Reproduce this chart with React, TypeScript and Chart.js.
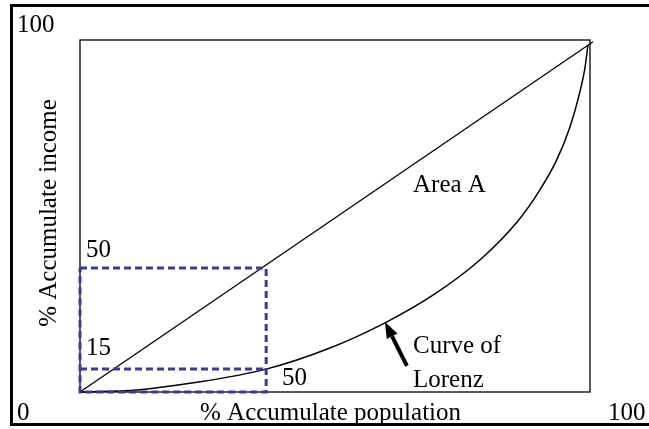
import React, { useEffect, useRef } from "react";
import { Chart, registerables } from "chart.js";

Chart.register(...registerables);

// Lorenz curve (% accumulated population -> % accumulated income)
const lorenzX = [0, 11.2, 22.2, 36.5, 49, 60, 69.2, 78.4, 85.7, 90, 93.5, 96, 97.8, 99, 99.6];
const lorenzY = [0, 0.6, 2.6, 6.5, 12.5, 19.8, 27.5, 37.5, 48.3, 57, 66, 75, 84, 92, 98.6];

// Line of equality
const equalityX = [0, 100.6];
const equalityY = [0, 99.5];

// Dashed guide boxes
const guideX = 36.5;
const guideHighY = 35.2;
const guideLowY = 6.5;

// Axis labels
const axisTicks = { zero: "0", hundred: "100" };
const xTitle = "% Accumulate population";
const yTitle = "% Accumulate income";

// Annotation texts
const areaLabel = "Area A";
const guideLabels = { high: "50", low: "15", right: "50" };
const curveLabel = ["Curve of", "Lorenz"];
const arrowFrom = { x: 64.1, y: 7.4 };
const arrowTo = { x: 59.8, y: 19.9 };

const FONT = '25px "Liberation Serif", "Times New Roman", serif';
const BLUE = "#3a3a9e";

export default function App() {
  const ref = useRef<HTMLCanvasElement>(null);

  useEffect(() => {
    if (!ref.current) return;

    const decor = {
      id: "decor",
      beforeDatasetsDraw(chart: any) {
        const { ctx, chartArea: a } = chart;
        ctx.save();
        ctx.strokeStyle = "#000";
        ctx.lineWidth = 1.3;
        ctx.strokeRect(a.left, a.top, a.right - a.left, a.bottom - a.top);
        ctx.restore();
      },
      afterDraw(chart: any) {
        const { ctx } = chart;
        const xs = chart.scales.x;
        const ys = chart.scales.y;
        ctx.save();
        // outer frame
        ctx.strokeStyle = "#000";
        ctx.lineWidth = 3;
        ctx.strokeRect(11.5, 5.5, 660, 419);

        ctx.fillStyle = "#000";
        ctx.font = FONT;
        ctx.textBaseline = "alphabetic";
        ctx.textAlign = "left";
        ctx.fillText(axisTicks.hundred, 17, 32);
        ctx.fillText(axisTicks.zero, 17, 420);
        ctx.fillText(axisTicks.hundred, 608, 420);
        ctx.fillText(xTitle, 200, 420);

        ctx.save();
        ctx.translate(56, 213);
        ctx.rotate(-Math.PI / 2);
        ctx.textAlign = "center";
        ctx.fillText(yTitle, 0, 0);
        ctx.restore();

        ctx.fillText(areaLabel, 413, 192);
        ctx.fillText(guideLabels.high, 86, 257);
        ctx.fillText(guideLabels.low, 86, 355);
        ctx.fillText(guideLabels.right, 282, 385);
        ctx.fillText(curveLabel[0], 413, 353);
        ctx.fillText(curveLabel[1], 413, 387);

        // arrow
        const x1 = xs.getPixelForValue(arrowFrom.x);
        const y1 = ys.getPixelForValue(arrowFrom.y);
        const x2 = xs.getPixelForValue(arrowTo.x);
        const y2 = ys.getPixelForValue(arrowTo.y);
        const ang = Math.atan2(y2 - y1, x2 - x1);
        const headLen = 16;
        const headW = 6;
        const bx = x2 - headLen * Math.cos(ang);
        const by = y2 - headLen * Math.sin(ang);
        ctx.strokeStyle = "#000";
        ctx.lineWidth = 4;
        ctx.beginPath();
        ctx.moveTo(x1, y1);
        ctx.lineTo(bx, by);
        ctx.stroke();
        ctx.beginPath();
        ctx.moveTo(x2, y2);
        ctx.lineTo(bx + headW * Math.sin(ang), by - headW * Math.cos(ang));
        ctx.lineTo(bx - headW * Math.sin(ang), by + headW * Math.cos(ang));
        ctx.closePath();
        ctx.fill();
        ctx.restore();
      },
    };

    const chart = new Chart(ref.current, {
      type: "line",
      data: {
        datasets: [
          {
            data: [
              { x: 0, y: guideHighY },
              { x: guideX, y: guideHighY },
              { x: guideX, y: 0 },
              { x: 0, y: 0 },
              { x: 0, y: guideHighY },
            ],
            borderColor: BLUE,
            borderWidth: 3,
            borderDash: [7, 4],
            pointRadius: 0,
            fill: false,
            clip: false,
          } as any,
          {
            data: [
              { x: 0, y: guideLowY },
              { x: guideX, y: guideLowY },
            ],
            borderColor: BLUE,
            borderWidth: 3,
            borderDash: [7, 4],
            pointRadius: 0,
            fill: false,
            clip: false,
          } as any,
          {
            data: equalityX.map((x, i) => ({ x, y: equalityY[i] })),
            borderColor: "#000",
            borderWidth: 1.3,
            pointRadius: 0,
            fill: false,
            clip: false,
          } as any,
          {
            data: lorenzX.map((x, i) => ({ x, y: lorenzY[i] })),
            borderColor: "#000",
            borderWidth: 1.5,
            pointRadius: 0,
            fill: false,
            cubicInterpolationMode: "monotone",
            clip: false,
          } as any,
        ],
      },
      options: {
        animation: false,
        responsive: false,
        devicePixelRatio: 1,
        layout: { padding: { left: 80, top: 40, right: 59, bottom: 37 } },
        plugins: { legend: { display: false }, tooltip: { enabled: false } },
        scales: {
          x: { type: "linear", min: 0, max: 100, display: false },
          y: { type: "linear", min: 0, max: 100, display: false },
        },
      },
      plugins: [decor],
    });
    return () => chart.destroy();
  }, []);

  return (
    <div style={{ position: "fixed", left: 0, top: 0, width: 649, height: 429, background: "#fff" }}>
      <canvas ref={ref} width={649} height={429} style={{ display: "block" }} />
    </div>
  );
}
